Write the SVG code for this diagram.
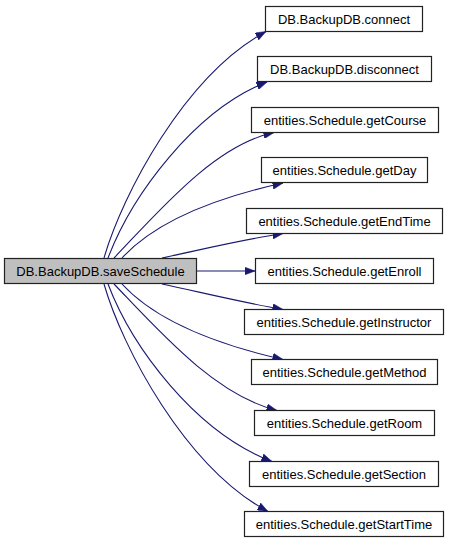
<svg xmlns="http://www.w3.org/2000/svg" width="449" height="544" viewBox="0 0 449 544">
<style>
.n rect{fill:#fff;stroke:#222;stroke-width:1.2}
.n.main rect{fill:#bfbfbf}
.n text{font-family:"Liberation Sans",Arial,sans-serif;font-size:13px;fill:#000;text-anchor:middle}
.e path{fill:none;stroke:#191970;stroke-width:1.1;marker-end:url(#ah)}
</style>
<defs>
<marker id="ah" markerUnits="userSpaceOnUse" markerWidth="11" markerHeight="8" refX="10.5" refY="4" orient="auto">
<path d="M0,0 L10.5,4 L0,8 z" fill="#191970" stroke="#191970" stroke-width="0.5"/>
</marker>
</defs>
<rect width="449" height="544" fill="#fff"/>
<g id="edges" class="e">
<path d="M104,258 C122,195 185,75 266,31.5"/>
<path d="M108,258 C132,195 195,110 267,82"/>
<path d="M114,258 C160,210 215,145 274,132.5"/>
<path d="M122,258 C155,222 215,198 283,183"/>
<path d="M162,258 C200,250 240,240 283,233.5"/>
<path d="M196.5,271 L255,271"/>
<path d="M162,284 C200,292 240,302 283,309.5"/>
<path d="M122,284 C155,320 215,344 283,359.5"/>
<path d="M114,284 C160,332 215,395 277,410.5"/>
<path d="M108,284 C132,347 195,432 272,461.5"/>
<path d="M104,284 C122,347 185,467 268,511.5"/>
</g>
<g id="saveSchedule" class="n main"><rect x="4.5" y="258.5" width="192" height="25"/><text x="100.5" y="276">DB.BackupDB.saveSchedule</text></g>
<g id="connect" class="n"><rect x="265.5" y="6.5" width="157" height="25"/><text x="344" y="24">DB.BackupDB.connect</text></g>
<g id="disconnect" class="n"><rect x="257.5" y="56.5" width="174" height="25"/><text x="344.5" y="74">DB.BackupDB.disconnect</text></g>
<g id="getCourse" class="n"><rect x="251.5" y="107.5" width="187" height="25"/><text x="345" y="125">entities.Schedule.getCourse</text></g>
<g id="getDay" class="n"><rect x="261.5" y="157.5" width="166" height="25"/><text x="344.5" y="175">entities.Schedule.getDay</text></g>
<g id="getEndTime" class="n"><rect x="246.5" y="208.5" width="196" height="25"/><text x="344.5" y="226">entities.Schedule.getEndTime</text></g>
<g id="getEnroll" class="n"><rect x="255.5" y="258.5" width="178" height="25"/><text x="344.5" y="276">entities.Schedule.getEnroll</text></g>
<g id="getInstructor" class="n"><rect x="244.5" y="309.5" width="199" height="25"/><text x="344" y="327">entities.Schedule.getInstructor</text></g>
<g id="getMethod" class="n"><rect x="251.5" y="359.5" width="186" height="25"/><text x="344.5" y="377">entities.Schedule.getMethod</text></g>
<g id="getRoom" class="n"><rect x="254.5" y="410.5" width="180" height="25"/><text x="344.5" y="428">entities.Schedule.getRoom</text></g>
<g id="getSection" class="n"><rect x="249.5" y="461.5" width="189" height="25"/><text x="344" y="479">entities.Schedule.getSection</text></g>
<g id="getStartTime" class="n"><rect x="244.5" y="511.5" width="199" height="25"/><text x="344" y="529">entities.Schedule.getStartTime</text></g>
</svg>
